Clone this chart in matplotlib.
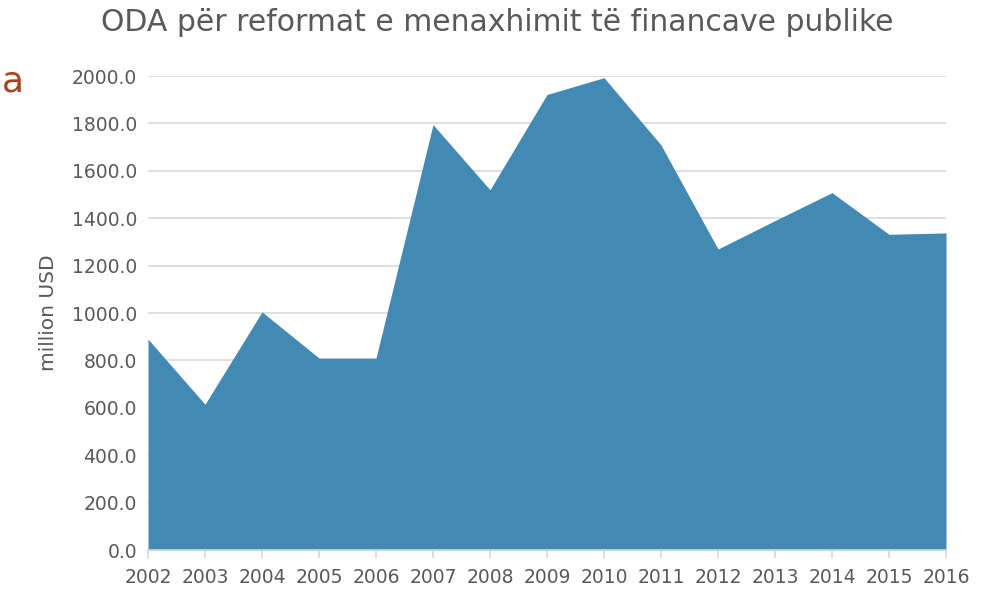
import matplotlib
matplotlib.use("Agg")
import matplotlib.pyplot as plt

years = ["2002", "2003", "2004", "2005", "2006", "2007", "2008", "2009",
         "2010", "2011", "2012", "2013", "2014", "2015", "2016"]
values = [890, 615, 1005, 810, 810, 1795, 1520, 1922, 1993, 1709,
          1270, 1390, 1508, 1332, 1338]
yticks = [0, 200, 400, 600, 800, 1000, 1200, 1400, 1600, 1800, 2000]

plt.rcParams['font.family'] = ['DejaVu Sans']
text_color = '#595959'

fig = plt.figure(figsize=(10, 5.92), dpi=100)
ax = fig.add_axes([0.148, 0.0709, 0.798, 0.8007])

x = list(range(len(years)))
ax.fill_between(x, values, 0, color='#4289b3', linewidth=0)

ax.set_xlim(0, len(years) - 1)
ax.set_ylim(0, 2000)
ax.set_yticks(yticks)
ax.set_yticklabels([f"{v:.1f}" for v in yticks], color=text_color, fontsize=13.5)
ax.set_xticks(x)
ax.set_xticklabels(years, color=text_color, fontsize=13.5)
ax.yaxis.grid(True, color='#d9d9d9', linewidth=1.2)
ax.set_axisbelow(True)
for s in ['left', 'right', 'top']:
    ax.spines[s].set_visible(False)
ax.spines['bottom'].set_color('#d9d9d9')
ax.spines['bottom'].set_linewidth(1.2)
ax.tick_params(axis='y', length=0, pad=8)
ax.tick_params(axis='x', length=6, color='#d9d9d9', width=1.2, pad=7)
ax.set_ylabel("million USD", color=text_color, fontsize=14.5, labelpad=10)

fig.text(0.497, 0.962, "ODA për reformat e menaxhimit të financave publike",
         ha='center', va='center', color=text_color, fontsize=21.5)
fig.text(0.002, 0.862, "a", ha='left', va='center', color='#b0401a',
         fontsize=26, fontweight='medium')

fig.savefig("out.png", dpi=100)
